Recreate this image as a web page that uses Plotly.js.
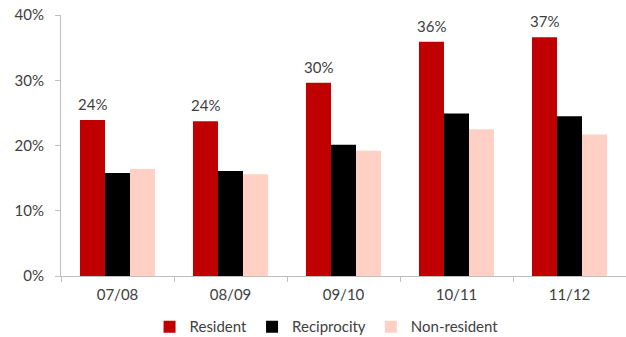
<!DOCTYPE html>
<html>
<head>
<meta charset="utf-8">
<script src="https://cdn.plot.ly/plotly-3.0.1.min.js"></script>
<style>html,body{margin:0;padding:0;background:#fff;}#chart{width:626px;height:337px;}</style>
</head>
<body>
<div id="chart"></div>
<script>
var categories = ['07/08', '08/09', '09/10', '10/11', '11/12'];
var resident = [23.9, 23.7, 29.6, 35.9, 36.6];
var reciprocity = [15.8, 16.1, 20.1, 24.9, 24.5];
var nonResident = [16.4, 15.6, 19.2, 22.5, 21.7];
var yTicks = [0, 10, 20, 30, 40];
var yTickLabels = ['0%', '10%', '20%', '30%', '40%'];

var fam = 'Lato, "Noto Sans", sans-serif';
var txtColor = '#404040';

var traces = [
  {type: 'bar', name: 'Resident', x: categories, y: resident, marker: {color: '#C00000'}, hoverinfo: 'none'},
  {type: 'bar', name: 'Reciprocity', x: categories, y: reciprocity, marker: {color: '#000000'}, hoverinfo: 'none'},
  {type: 'bar', name: 'Non-resident', x: categories, y: nonResident, marker: {color: '#FFD0C3'}, hoverinfo: 'none'}
];

var annotations = categories.map(function (c, i) {
  return {x: c, y: resident[i], xref: 'x', yref: 'y', text: Math.round(resident[i]) + '%',
          showarrow: false, yanchor: 'bottom', yshift: 5, xshift: -25,
          font: {family: fam, size: 15, color: txtColor}};
});

var layout = {
  width: 626, height: 337,
  margin: {l: 61, r: 0, t: 15, b: 61},
  paper_bgcolor: '#ffffff', plot_bgcolor: '#ffffff',
  font: {family: fam, size: 15, color: txtColor},
  barmode: 'group', bargap: 0.336, bargroupgap: 0,
  showlegend: true,
  annotations: annotations,
  legend: {orientation: 'h', x: 0.47, xanchor: 'center', yref: 'container', y: 0.03, yanchor: 'middle',
           font: {family: fam, size: 15, color: txtColor}, traceorder: 'normal'},
  xaxis: {type: 'category', showline: true, linecolor: '#BFBFBF', linewidth: 1,
          ticks: 'outside', tickson: 'boundaries', ticklen: 5, tickcolor: '#BFBFBF',
          showgrid: false, zeroline: false, automargin: false, ticklabelstandoff: 5,
          tickfont: {family: fam, size: 15, color: txtColor}},
  yaxis: {range: [0, 40], tickmode: 'array', tickvals: yTicks, ticktext: yTickLabels,
          showline: true, linecolor: '#BFBFBF', linewidth: 1, automargin: false, ticklabelstandoff: 8,
          ticks: 'outside', ticklen: 5, tickcolor: '#BFBFBF', showgrid: false, zeroline: false,
          tickfont: {family: fam, size: 15, color: txtColor}}
};

Plotly.newPlot('chart', traces, layout, {displayModeBar: false, staticPlot: true});
</script>
</body>
</html>
